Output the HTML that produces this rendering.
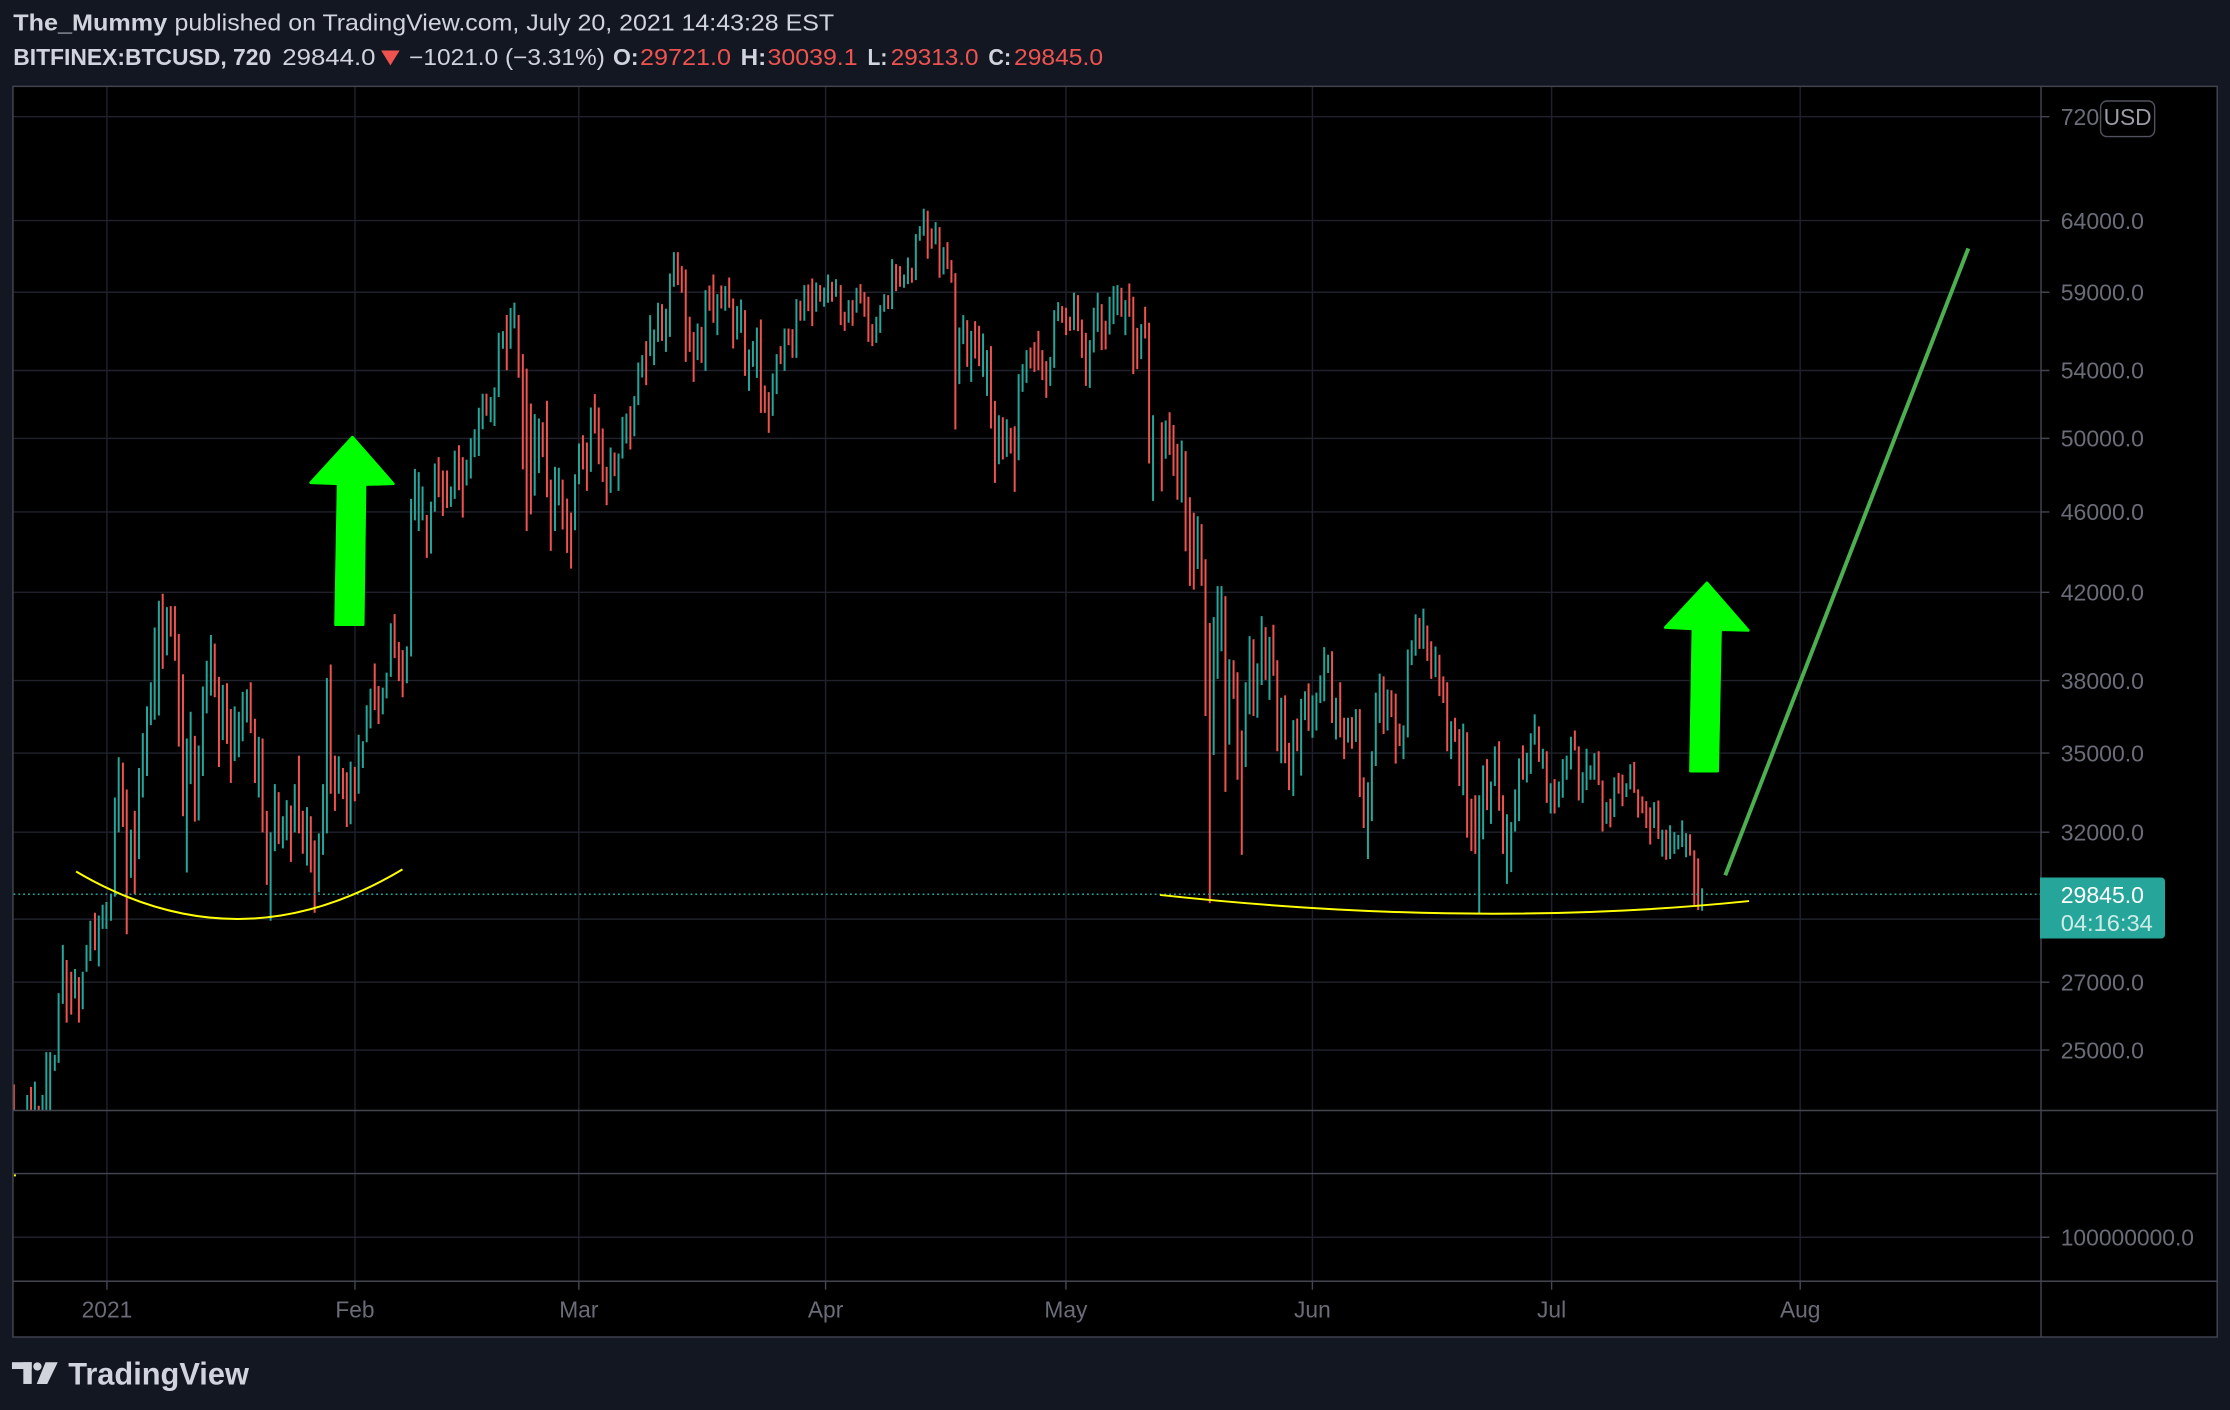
<!DOCTYPE html>
<html><head><meta charset="utf-8">
<style>
html,body{margin:0;padding:0;background:#131722;width:2230px;height:1410px;overflow:hidden}
svg{display:block}
text{font-family:"Liberation Sans",Arial,sans-serif}
</style></head><body>
<svg width="2230" height="1410" viewBox="0 0 1568 991" preserveAspectRatio="none" xmlns="http://www.w3.org/2000/svg">
<defs>
<clipPath id="pane"><rect x="9.5" y="61" width="1425.5" height="719.3"/></clipPath>
</defs>
<rect width="1568" height="991" fill="#131722"/>

<!-- Header -->
<text x="9.3" y="21.6" font-size="16" font-weight="bold" fill="#d1d4dc" textLength="108.3" lengthAdjust="spacingAndGlyphs">The_Mummy</text>
<text x="122.7" y="21.6" font-size="16" fill="#d1d4dc" textLength="463.8" lengthAdjust="spacingAndGlyphs">published on TradingView.com, July 20, 2021 14:43:28 EST</text>

<text x="9.3" y="45.7" font-size="16" font-weight="bold" fill="#d1d4dc" textLength="181.4" lengthAdjust="spacingAndGlyphs">BITFINEX:BTCUSD, 720</text>
<text x="198.5" y="45.7" font-size="16" fill="#d1d4dc" textLength="65.5" lengthAdjust="spacingAndGlyphs">29844.0</text>
<polygon points="268,35.5 281,35.5 274.5,46" fill="#ef5350"/>
<text x="287.7" y="45.7" font-size="16" fill="#d1d4dc" textLength="137.6" lengthAdjust="spacingAndGlyphs">−1021.0 (−3.31%)</text>
<text x="431" y="45.7" font-size="16" font-weight="bold" fill="#d1d4dc" textLength="18" lengthAdjust="spacingAndGlyphs">O:</text>
<text x="450" y="45.7" font-size="16" fill="#ef5350" textLength="64" lengthAdjust="spacingAndGlyphs">29721.0</text>
<text x="520.8" y="45.7" font-size="16" font-weight="bold" fill="#d1d4dc" textLength="18" lengthAdjust="spacingAndGlyphs">H:</text>
<text x="539.7" y="45.7" font-size="16" fill="#ef5350" textLength="63.3" lengthAdjust="spacingAndGlyphs">30039.1</text>
<text x="610" y="45.7" font-size="16" font-weight="bold" fill="#d1d4dc" textLength="14" lengthAdjust="spacingAndGlyphs">L:</text>
<text x="626.3" y="45.7" font-size="16" fill="#ef5350" textLength="61.7" lengthAdjust="spacingAndGlyphs">29313.0</text>
<text x="695" y="45.7" font-size="16" font-weight="bold" fill="#d1d4dc" textLength="16" lengthAdjust="spacingAndGlyphs">C:</text>
<text x="713" y="45.7" font-size="16" fill="#ef5350" textLength="62.6" lengthAdjust="spacingAndGlyphs">29845.0</text>

<!-- Chart frame background -->
<rect x="9" y="60.5" width="1550" height="879.5" fill="#000"/>

<!-- Grid -->
<g stroke="#1f222c" stroke-width="1" fill="none">
<path d="M75.2 61V900M249.6 61V900M407 61V900M580.5 61V900M749.5 61V900M922.8 61V900M1091 61V900M1265.8 61V900"/>
<path d="M9.5 82H1435M9.5 155H1435M9.5 205.4H1435M9.5 260.4H1435M9.5 308.1H1435M9.5 359.8H1435M9.5 416.3H1435M9.5 478.3H1435M9.5 529.3H1435M9.5 584.9H1435M9.5 646H1435M9.5 690.3H1435M9.5 738H1435M9.5 869.6H1435"/>
</g>

<!-- Candles -->
<g clip-path="url(#pane)">
<g transform="matrix(0.2691 0 0 0.3768 7.03 196.9)" fill="none" stroke-width="5.2">
<path stroke="#26a69a" d="M45 1520V1548M65 1495V1548M85 1520V1548M95 1440V1548M105 1440V1548M117 1445V1475M127 1330V1460M138 1240V1350M170 1285V1340M190 1290V1360M200 1240V1290M210 1195V1270M232 1185V1280M242 1165V1210M252 1160V1210M264 1145V1195M274 965V1150M284 890V1030M316 1025V1115M337 910V1080M347 845V965M358 795V925M368 750V830M378 648V820M389 598V812M410 610V700M462 855V1105M472 805V940M493 868V1008M504 758V925M514 710V808M525 662V775M556 755V858M587 795V897M598 805V890M608 768V860M619 763V825M650 852V965M681 1030V1195M692 940V1065M713 1000V1060M723 970V1045M744 940V1030M776 983V1092M807 1032V1142M818 940V1072M828 742V1032M859 888V958M890 898V1015M911 848V958M922 860V910M932 793V862M942 762V836M974 760V810M984 732V780M995 640V740M1037 683V752M1048 408V702M1058 352V448M1068 358V468M1078 385V448M1100 413V510M1110 342V432M1152 385V423M1162 318V408M1193 335V383M1204 295V370M1214 278V330M1225 238V328M1235 212V278M1256 218V265M1266 200V272M1277 98V218M1288 95V128M1308 52V128M1318 42V90M1371 250V402M1382 258V360M1424 348V468M1434 350V420"/>
<path stroke="#ef5350" d="M10 1500V1548M55 1505V1548M75 1540V1548M148 1268V1385M160 1290V1370M180 1300V1385M222 1180V1250M295 900V1020M305 950V1220M326 990V1145M399 585V725M420 608V665M431 608V710M441 660V870M452 735V1000M483 850V1010M535 678V778M546 740V908M567 752V865M577 800V938M629 750V845M640 818V938M660 855V1030M671 990V1128M702 955V1052M734 980V1085M755 887V1032M765 990V1070M786 1000V1105M796 1045V1180M838 717V958M849 887V990M870 910V968M880 918V1020M901 908V972M953 715V802M963 757V828M1005 623V705M1016 675V748M1026 690V778M1089 438V518M1120 330V405M1131 355V440M1142 355V425M1173 308V392M1183 330V443M1245 212V253M1298 65V168M1329 65V182M1340 138V353M1350 165V468M1361 230V437M1392 265V330M1403 225V405M1413 372V505M1444 372V465"/>
</g>
<g transform="matrix(0.278 0 0 0.2344 393.76 126.56)" fill="none" stroke-width="5">
<path stroke="#26a69a" d="M38 882V1050M48 790V912M78 682V875M128 802V938M148 820V932M158 710V835M168 700V790M188 648V768M198 547V675M208 525V592M228 405V528M238 448V555M248 368V485M268 386V515M278 280V470M288 216V320M348 430V540M368 330V572M398 342V465M418 318V392M448 378V478M458 358V458M478 508V632M488 483V560M498 442V593M538 580V707M548 522V642M568 445V572M598 357V533M618 315V422M648 307V395M668 322V380M678 283V368M698 297V350M730 360V428M750 323V398M800 410V488M810 375V458M820 342V395M840 237V387M870 283V323M880 232V312M900 162V300M910 138V182M920 86V167M950 126V193M970 201V283M1010 442V612M1020 405V492M1040 452V605M1070 460V590M1080 510V647M1110 705V852M1130 717V830M1160 582V840M1170 552V635M1180 510V608M1240 530V617M1250 390V563M1260 366V423M1300 338V450M1340 480V623M1350 383V517M1360 338V455M1390 350V463M1400 318V432M1410 315V405M1430 360V465M1470 432V537M1500 705V962"/>
<path stroke="#ef5350" d="M18 955V1118M28 997V1165M58 765V868M68 787V932M88 642V760M98 682V852M108 745V905M118 860V975M138 817V888M178 678V808M218 483V615M258 372V482M298 216V315M308 258V338M318 268V545M328 410V515M338 456V605M358 440V548M378 316V392M388 283V428M408 316V385M428 292V383M438 355V505M468 390V587M508 418V698M518 616V698M528 636V758M558 498V552M578 445V495M588 447V533M608 362V422M628 313V393M638 295V438M658 315V365M688 305V365M710 315V435M720 395V452M740 360V437M760 312V370M770 336V410M780 350V485M790 432V498M830 345V387M850 252V333M860 258V320M890 263V308M930 92V236M940 145V206M960 141V293M980 186V267M990 240V308M1000 279V748M1030 420V560M1050 423V535M1060 437V558M1090 498V745M1100 662V908M1120 711V838M1140 743V820M1150 738V935M1190 502V565M1200 486V575M1210 452V570M1220 510V600M1230 543V653M1270 378V428M1280 383V465M1290 410V452M1310 345V453M1320 418V533M1330 458V617M1370 372V510M1380 422V508M1420 323V410M1440 310V410M1450 350V582M1460 443V567M1480 380V475M1490 428V850"/>
</g>
<g transform="matrix(0.24995 0 0 0.24213 815.64 267.19)" fill="none" stroke-width="5.6">
<path stroke="#26a69a" d="M16 117V228M61 175V355M106 395V548M151 688V1088M162 598V867M173 598V787M195 810V1058M241 877V1123M252 743V970M274 822V980M286 685V885M308 745V928M341 922V1112M375 987V1207M397 925V1148M408 903V987M429 915V1038M440 907V1017M451 857V937M462 775V932M473 797V850M495 922V1043M529 980V1052M551 955V1050M585 1167V1390M596 1077V1280M607 907V1120M618 852V995M640 898V1017M685 1002V1100M697 782V1037M708 755V827M719 680V800M741 663V780M775 773V862M819 990V1100M853 997V1205M898 1205V1548M909 1118V1333M931 1165V1288M942 1063V1178M976 1260V1462M988 1283V1428M999 1188V1310M1010 1098V1280M1032 1082V1168M1043 1025V1143M1054 970V1058M1077 1070V1128M1099 1170V1258M1122 1165V1240M1133 1100V1212M1144 1090V1160M1156 1035V1130M1189 1138V1227M1200 1070V1190M1211 1118V1160M1222 1083V1160M1256 1225V1288M1278 1153V1268M1312 1170V1210M1323 1115V1188M1390 1225V1300M1413 1305V1383M1435 1292V1390M1447 1312V1375M1458 1320V1362M1469 1278V1355M1480 1315V1385M1525 1475V1540"/>
<path stroke="#ef5350" d="M5 122V323M27 93V217M38 130V278M49 185V347M72 206V497M84 340V597M95 385V608M117 418V597M128 520V975M140 705V1518M184 627V1195M207 813V925M218 848V1160M230 1017V1378M263 752V975M297 717V870M319 710V858M330 813V1077M352 915V1112M363 1053V1190M386 982V1077M418 880V1018M484 787V995M507 877V1037M518 980V1100M540 978V1070M562 955V1210M573 1153V1300M629 860V1027M651 900V978M663 910V1113M674 997V1062M730 690V780M752 712V815M763 758V867M786 797V917M797 860V937M808 877V1077M830 980V1050M842 1013V1178M864 1022V1328M876 1215V1367M887 1205V1375M920 1100V1248M954 1048V1250M965 1205V1375M1021 1060V1160M1066 1005V1108M1088 1077V1227M1110 1158V1258M1167 1017V1075M1178 1063V1220M1234 1077V1175M1245 1162V1310M1267 1215V1298M1290 1140V1200M1301 1145V1237M1334 1108V1198M1345 1188V1270M1357 1208V1257M1368 1222V1300M1379 1240V1348M1402 1220V1332M1424 1305V1392M1491 1318V1380M1503 1365V1523M1514 1388V1538"/>
</g>

<!-- last price dotted line -->
<line x1="9.5" y1="628.5" x2="1435" y2="628.5" stroke="#26a69a" stroke-width="1" stroke-dasharray="1.3 2.1"/>

<!-- Drawings -->
<path d="M53.5 612.5Q168 680 283 611" fill="none" stroke="#ffff00" stroke-width="1.4"/>
<path d="M815.6 629Q1037 653 1229.8 633.3" fill="none" stroke="#ffff00" stroke-width="1.4"/>
<line x1="1213.1" y1="615.2" x2="1384" y2="174.6" stroke="#4caf50" stroke-width="2.8"/>
<polygon points="247.8,307.3 276.5,340 256.6,340.5 255.3,439 236,439 237.8,340 218.5,339.3" fill="#00ff00" stroke="#00ff00" stroke-width="2" stroke-linejoin="round"/>
<polygon points="1200.2,409.7 1229.2,443 1209.7,442.5 1207.7,541.9 1188.7,541.9 1190.4,442 1171,441" fill="#00ff00" stroke="#00ff00" stroke-width="2" stroke-linejoin="round"/>
</g>

<!-- tiny marker in lower pane -->
<rect x="9.8" y="825.4" width="1.4" height="1.4" fill="#ffff00"/>

<!-- Pane borders & frame -->
<g stroke="#434651" stroke-width="1" fill="none">
<path d="M9 780.5H1559M9 824.8H1559M9 900.5H1559"/>
<path d="M1435.1 61V939.5"/>
<rect x="9.1" y="60.7" width="1549.9" height="879"/>
<path d="M1435 82H1441M1435 155H1441M1435 205.4H1441M1435 260.4H1441M1435 308.1H1441M1435 359.8H1441M1435 416.3H1441M1435 478.3H1441M1435 529.3H1441M1435 584.9H1441M1435 690.3H1441M1435 738H1441M1435 869.6H1441"/>
<path d="M75.2 900.5V906.5M249.6 900.5V906.5M407 900.5V906.5M580.5 900.5V906.5M749.5 900.5V906.5M922.8 900.5V906.5M1091 900.5V906.5M1265.8 900.5V906.5"/>
</g>

<!-- Price axis labels -->
<g font-size="16" fill="#6a6d78">
<text x="1449" y="87.8" textLength="58.5" lengthAdjust="spacingAndGlyphs">72000.0</text>
<text x="1449" y="160.8" textLength="58.5" lengthAdjust="spacingAndGlyphs">64000.0</text>
<text x="1449" y="211.2" textLength="58.5" lengthAdjust="spacingAndGlyphs">59000.0</text>
<text x="1449" y="266.2" textLength="58.5" lengthAdjust="spacingAndGlyphs">54000.0</text>
<text x="1449" y="313.9" textLength="58.5" lengthAdjust="spacingAndGlyphs">50000.0</text>
<text x="1449" y="365.6" textLength="58.5" lengthAdjust="spacingAndGlyphs">46000.0</text>
<text x="1449" y="422.1" textLength="58.5" lengthAdjust="spacingAndGlyphs">42000.0</text>
<text x="1449" y="484.1" textLength="58.5" lengthAdjust="spacingAndGlyphs">38000.0</text>
<text x="1449" y="535.1" textLength="58.5" lengthAdjust="spacingAndGlyphs">35000.0</text>
<text x="1449" y="590.7" textLength="58.5" lengthAdjust="spacingAndGlyphs">32000.0</text>
<text x="1449" y="696.1" textLength="58.5" lengthAdjust="spacingAndGlyphs">27000.0</text>
<text x="1449" y="743.8" textLength="58.5" lengthAdjust="spacingAndGlyphs">25000.0</text>
<text x="1449" y="875.4" textLength="93.7" lengthAdjust="spacingAndGlyphs">100000000.0</text>
</g>

<!-- USD badge -->
<rect x="1477" y="71" width="38" height="25" rx="4.5" fill="#000" stroke="#50535e" stroke-width="1"/>
<text x="1496" y="88" font-size="16" fill="#9a9da6" text-anchor="middle">USD</text>

<!-- Last price box -->
<path d="M1434.4 616.7H1519.3Q1522.3 616.7 1522.3 619.7V656.6Q1522.3 659.6 1519.3 659.6H1434.4Z" fill="#26a69a"/>
<text x="1449" y="634.6" font-size="16" fill="#ffffff" textLength="58.5" lengthAdjust="spacingAndGlyphs">29845.0</text>
<text x="1449" y="654.5" font-size="16" fill="#cdece8" textLength="64.7" lengthAdjust="spacingAndGlyphs">04:16:34</text>

<!-- Time axis labels -->
<g font-size="16" fill="#6a6d78" text-anchor="middle">
<text x="75.2" y="926">2021</text>
<text x="249.6" y="926">Feb</text>
<text x="407" y="926">Mar</text>
<text x="580.5" y="926">Apr</text>
<text x="749.5" y="926">May</text>
<text x="922.8" y="926">Jun</text>
<text x="1091" y="926">Jul</text>
<text x="1265.8" y="926">Aug</text>
</g>

<!-- TradingView logo -->
<g fill="#d1d4dc">
<rect x="8.4" y="957.4" width="13.9" height="4.8"/>
<rect x="16.4" y="957.4" width="5.9" height="15.3"/>
<circle cx="26.3" cy="960.4" r="2.9"/>
<polygon points="32,957.4 40.6,957.4 33.2,972.7 25.8,972.7"/>
<text x="48" y="973" font-size="22" font-weight="bold" textLength="127" lengthAdjust="spacingAndGlyphs">TradingView</text>
</g>
</svg>
</body></html>
